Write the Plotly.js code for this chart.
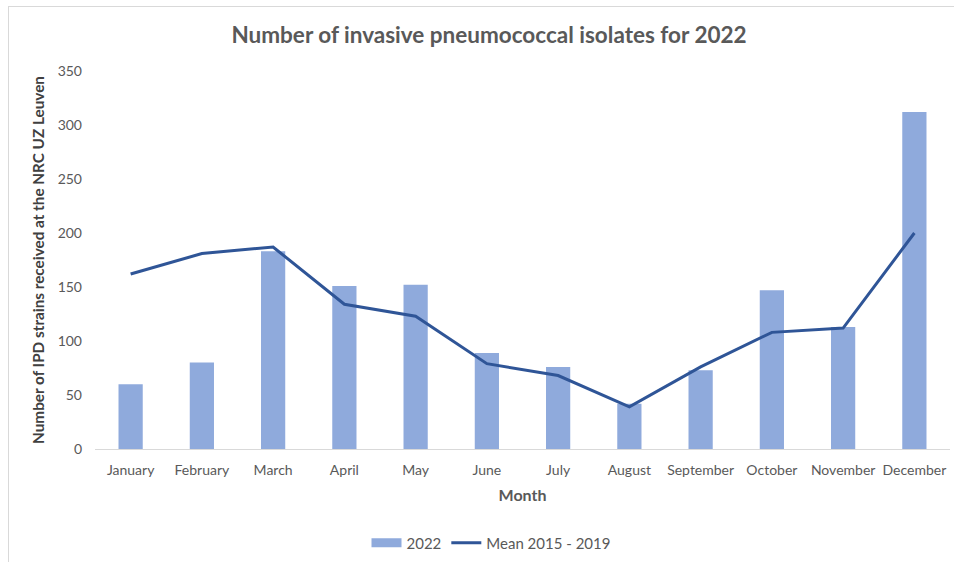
<!DOCTYPE html>
<html>
<head>
<meta charset="utf-8">
<script src="https://cdn.plot.ly/plotly-3.0.1.min.js"></script>
<style>
  html, body { margin: 0; padding: 0; background: #ffffff; overflow: hidden; }
  #chart { position: absolute; left: 0; top: 0; width: 954px; height: 562px; }
  #frame { position: absolute; left: 8px; top: 6px; width: 960px; height: 570px;
           border-top: 1px solid #d9d9d9; border-left: 1px solid #d9d9d9; pointer-events: none; }
</style>
</head>
<body>
<div id="chart"></div>
<div id="frame"></div>
<script>
// Monthly counts of invasive pneumococcal isolates
const months = ["January", "February", "March", "April", "May", "June",
                "July", "August", "September", "October", "November", "December"];
const isolates2022 = [60, 80, 183, 151, 152, 89, 76, 42, 73, 147, 113, 312];
const mean2015to2019 = [162, 181, 187, 134, 123, 79, 68, 39, 76, 108, 112, 200];
const yTicks = [0, 50, 100, 150, 200, 250, 300, 350];

const barColor = "#8faadc";
const lineColor = "#2f5597";
const textGrey = "#595959";
const fontFamily = "Lato, 'Open Sans', sans-serif";

const traces = [
  {
    type: "bar",
    name: "2022",
    x: months,
    y: isolates2022,
    marker: { color: barColor },
    showlegend: false,
    hoverinfo: "x+y"
  },
  {
    type: "scatter",
    mode: "lines",
    name: "Mean 2015 - 2019",
    x: months,
    y: mean2015to2019,
    line: { color: lineColor, width: 3 },
    showlegend: false,
    hoverinfo: "x+y"
  },
  // legend entries: a wide block for the bars, a line for the mean
  {
    type: "scatter", mode: "lines", name: "2022",
    x: [null], y: [null],
    line: { color: barColor, width: 9 },
    hoverinfo: "skip"
  },
  {
    type: "scatter", mode: "lines", name: "Mean 2015 - 2019",
    x: [null], y: [null],
    line: { color: lineColor, width: 3 },
    hoverinfo: "skip"
  }
];

const layout = {
  width: 954,
  height: 562,
  paper_bgcolor: "#ffffff",
  plot_bgcolor: "#ffffff",
  font: { family: fontFamily, color: textGrey, size: 14 },
  margin: { l: 95, r: 4, t: 71, b: 113 },
  title: {
    text: "<b>Number of invasive pneumococcal isolates for 2022</b>",
    font: { family: fontFamily, size: 22.5, color: textGrey },
    xref: "container", x: 0.5126, xanchor: "center",
    yref: "container", y: 1 - 35 / 562, yanchor: "middle"
  },
  bargap: 0.66,
  xaxis: {
    type: "category",
    categoryorder: "array",
    categoryarray: months,
    showgrid: false,
    zeroline: false,
    showline: true,
    linecolor: "#d9d9d9",
    linewidth: 1,
    ticks: "",
    ticklabelstandoff: 8,
    tickfont: { family: fontFamily, size: 14, color: textGrey },
    title: {
      text: "<b>Month</b>",
      font: { family: fontFamily, size: 16, color: textGrey },
      standoff: 13
    }
  },
  yaxis: {
    range: [0, 350],
    tickvals: yTicks,
    ticktext: yTicks.map(String),
    showgrid: false,
    zeroline: false,
    showline: false,
    ticks: "",
    ticklabelstandoff: 12,
    tickfont: { family: fontFamily, size: 14, color: textGrey },
    title: {
      text: "<b>Number of IPD strains received at the NRC UZ Leuven</b>",
      font: { family: fontFamily, size: 15.3, color: "#404040" },
      standoff: 9
    }
  },
  showlegend: true,
  legend: {
    orientation: "h",
    xref: "container", x: 491 / 954, xanchor: "center",
    yref: "container", y: 1 - 543 / 562, yanchor: "middle",
    font: { family: fontFamily, size: 15, color: textGrey },
    bgcolor: "rgba(0,0,0,0)",
    itemwidth: 30,
    tracegroupgap: 0
  },
  hovermode: "closest"
};

Plotly.newPlot("chart", traces, layout, { displayModeBar: false, staticPlot: false });
</script>
</body>
</html>
